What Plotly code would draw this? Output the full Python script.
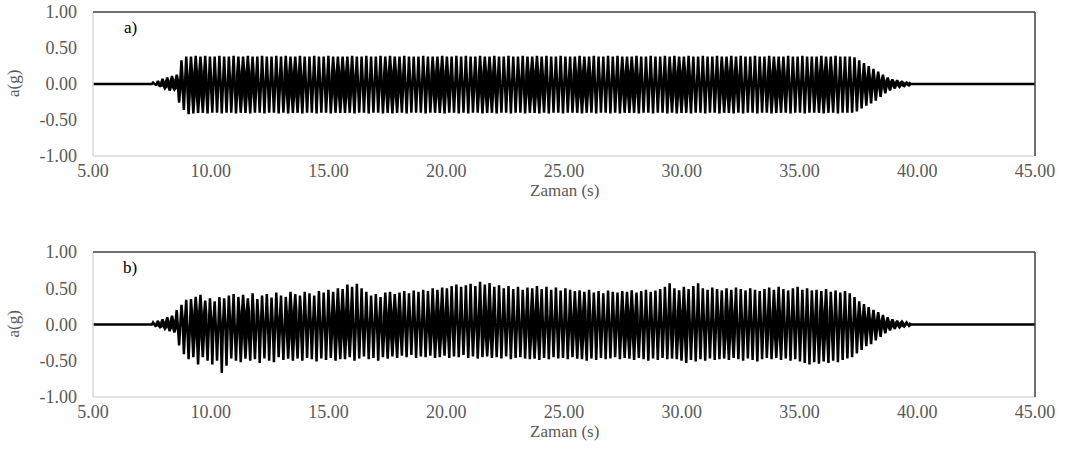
import numpy as np
import plotly.graph_objects as go

# ---------------- data ----------------
X_RANGE = [5, 45]
X_TICKS = [5, 10, 15, 20, 25, 30, 35, 40, 45]
Y_TICKS = [-1.0, -0.5, 0.0, 0.5, 1.0]
X_TITLE = "Zaman (s)"
Y_TITLE = "a(g)"
PANEL_LABELS = ["a)", "b)"]

# start / end of the motion (s)
A_START, A_END = 7.55, 39.75
B_START, B_END = 7.55, 39.75

# panel a: positive peak of each cycle (g)
A_POS = [
    0.02, 0.04, 0.07, 0.09, 0.11, 0.13, 0.33, 0.38, 0.38, 0.39,
    0.38, 0.39, 0.38, 0.38, 0.39, 0.38, 0.38, 0.39, 0.38, 0.38,
    0.39, 0.38, 0.38, 0.39, 0.38, 0.38, 0.39, 0.38, 0.39, 0.38,
    0.38, 0.39, 0.38, 0.38, 0.39, 0.38, 0.38, 0.39, 0.38, 0.38,
    0.38, 0.38, 0.39, 0.38, 0.38, 0.39, 0.38, 0.38, 0.39, 0.38,
    0.39, 0.38, 0.38, 0.39, 0.38, 0.38, 0.38, 0.39, 0.38, 0.38,
    0.38, 0.39, 0.38, 0.38, 0.39, 0.38, 0.39, 0.38, 0.38, 0.39,
    0.38, 0.38, 0.39, 0.38, 0.38, 0.39, 0.38, 0.38, 0.39, 0.38,
    0.38, 0.39, 0.38, 0.39, 0.38, 0.38, 0.39, 0.38, 0.38, 0.38,
    0.39, 0.38, 0.38, 0.39, 0.38, 0.38, 0.39, 0.38, 0.39, 0.38,
    0.38, 0.38, 0.39, 0.38, 0.38, 0.39, 0.38, 0.38, 0.39, 0.38,
    0.39, 0.38, 0.38, 0.39, 0.38, 0.38, 0.39, 0.38, 0.38, 0.39,
    0.38, 0.38, 0.39, 0.38, 0.39, 0.38, 0.38, 0.39, 0.38, 0.38,
    0.39, 0.38, 0.38, 0.38, 0.39, 0.38, 0.38, 0.39, 0.38, 0.38,
    0.38, 0.39, 0.38, 0.38, 0.39, 0.38, 0.38, 0.38, 0.37, 0.33,
    0.29, 0.25, 0.21, 0.17, 0.13, 0.09, 0.06, 0.05, 0.03, 0.02,
]
# panel a: negative trough of each cycle (g)
A_NEG = [
    -0.01, -0.03, -0.06, -0.09, -0.08, -0.26, -0.36, -0.42, -0.41, -0.40,
    -0.40, -0.41, -0.40, -0.40, -0.41, -0.40, -0.40, -0.41, -0.40, -0.40,
    -0.41, -0.40, -0.40, -0.41, -0.40, -0.40, -0.41, -0.40, -0.41, -0.40,
    -0.40, -0.41, -0.40, -0.40, -0.41, -0.40, -0.40, -0.41, -0.40, -0.40,
    -0.40, -0.40, -0.41, -0.40, -0.40, -0.41, -0.40, -0.40, -0.41, -0.40,
    -0.41, -0.40, -0.40, -0.41, -0.40, -0.40, -0.40, -0.41, -0.40, -0.40,
    -0.40, -0.41, -0.40, -0.40, -0.41, -0.40, -0.41, -0.40, -0.40, -0.41,
    -0.40, -0.40, -0.41, -0.40, -0.40, -0.41, -0.40, -0.40, -0.41, -0.40,
    -0.40, -0.41, -0.40, -0.41, -0.40, -0.40, -0.41, -0.40, -0.40, -0.40,
    -0.41, -0.40, -0.40, -0.41, -0.40, -0.40, -0.41, -0.40, -0.41, -0.40,
    -0.40, -0.40, -0.41, -0.40, -0.40, -0.41, -0.40, -0.40, -0.41, -0.40,
    -0.41, -0.40, -0.40, -0.41, -0.40, -0.40, -0.41, -0.40, -0.40, -0.41,
    -0.40, -0.40, -0.41, -0.40, -0.41, -0.40, -0.40, -0.41, -0.40, -0.40,
    -0.41, -0.40, -0.40, -0.40, -0.41, -0.40, -0.40, -0.41, -0.40, -0.40,
    -0.40, -0.41, -0.40, -0.40, -0.41, -0.40, -0.40, -0.40, -0.38, -0.34,
    -0.30, -0.27, -0.23, -0.18, -0.13, -0.09, -0.06, -0.04, -0.03, -0.02,
]
# panel a: half-width of the dense dark band around zero, per cycle (g)
A_BAND = [
    0.01, 0.02, 0.03, 0.04, 0.05, 0.06, 0.08, 0.10, 0.14, 0.17,
    0.17, 0.13, 0.09, 0.06, 0.04, 0.04, 0.06, 0.09, 0.14, 0.17,
    0.17, 0.13, 0.09, 0.06, 0.04, 0.04, 0.06, 0.09, 0.14, 0.17,
    0.17, 0.13, 0.09, 0.06, 0.04, 0.04, 0.06, 0.09, 0.14, 0.17,
    0.17, 0.17, 0.13, 0.09, 0.06, 0.04, 0.04, 0.06, 0.09, 0.14,
    0.17, 0.17, 0.13, 0.09, 0.06, 0.04, 0.04, 0.06, 0.09, 0.14,
    0.17, 0.17, 0.13, 0.09, 0.06, 0.04, 0.04, 0.06, 0.09, 0.14,
    0.17, 0.17, 0.13, 0.09, 0.06, 0.04, 0.04, 0.06, 0.09, 0.14,
    0.17, 0.17, 0.13, 0.09, 0.06, 0.04, 0.04, 0.06, 0.09, 0.14,
    0.17, 0.17, 0.13, 0.09, 0.06, 0.04, 0.04, 0.06, 0.09, 0.14,
    0.17, 0.17, 0.13, 0.09, 0.06, 0.04, 0.04, 0.06, 0.09, 0.14,
    0.14, 0.17, 0.17, 0.13, 0.09, 0.06, 0.04, 0.04, 0.06, 0.09,
    0.14, 0.17, 0.17, 0.13, 0.09, 0.06, 0.04, 0.04, 0.06, 0.09,
    0.14, 0.17, 0.17, 0.13, 0.09, 0.06, 0.04, 0.04, 0.06, 0.09,
    0.14, 0.17, 0.17, 0.13, 0.09, 0.06, 0.04, 0.04, 0.06, 0.09,
    0.10, 0.08, 0.07, 0.06, 0.05, 0.04, 0.03, 0.02, 0.02, 0.01,
]

# panel b: positive peak of each cycle (g)
B_POS = [
    0.03, 0.05, 0.07, 0.10, 0.12, 0.20, 0.27, 0.34, 0.35, 0.38,
    0.41, 0.33, 0.36, 0.32, 0.38, 0.36, 0.40, 0.42, 0.38, 0.41,
    0.36, 0.43, 0.35, 0.40, 0.42, 0.37, 0.44, 0.40, 0.38, 0.45,
    0.42, 0.40, 0.45, 0.43, 0.40, 0.46, 0.44, 0.48, 0.45, 0.50,
    0.49, 0.55, 0.52, 0.56, 0.50, 0.45, 0.40, 0.42, 0.38, 0.44,
    0.45, 0.42, 0.44, 0.46, 0.43, 0.47, 0.45, 0.48, 0.46, 0.50,
    0.48, 0.51, 0.50, 0.53, 0.55, 0.52, 0.54, 0.56, 0.53, 0.59,
    0.55, 0.57, 0.52, 0.54, 0.50, 0.53, 0.49, 0.52, 0.48, 0.51,
    0.50, 0.53, 0.49, 0.52, 0.48, 0.51, 0.47, 0.50, 0.48, 0.46,
    0.47, 0.45, 0.48, 0.44, 0.46, 0.43, 0.47, 0.45, 0.44, 0.46,
    0.45, 0.47, 0.44, 0.46, 0.48, 0.45, 0.47, 0.49, 0.52, 0.57,
    0.50, 0.47, 0.52, 0.49, 0.53, 0.57, 0.50, 0.48, 0.51, 0.49,
    0.47, 0.50, 0.48, 0.51, 0.49, 0.47, 0.50, 0.48, 0.46, 0.49,
    0.51, 0.48, 0.52, 0.49, 0.47, 0.50, 0.52, 0.48, 0.50, 0.47,
    0.48, 0.46, 0.49, 0.45, 0.47, 0.44, 0.46, 0.43, 0.38, 0.32,
    0.28, 0.24, 0.20, 0.17, 0.13, 0.10, 0.07, 0.05, 0.04, 0.03,
]
# panel b: negative trough of each cycle (g)
B_NEG = [
    -0.02, -0.04, -0.06, -0.09, -0.11, -0.29, -0.41, -0.48, -0.45, -0.55,
    -0.45, -0.50, -0.55, -0.50, -0.67, -0.57, -0.47, -0.50, -0.52, -0.47,
    -0.50, -0.48, -0.53, -0.47, -0.50, -0.52, -0.45, -0.49, -0.47, -0.50,
    -0.47, -0.50, -0.46, -0.48, -0.51, -0.47, -0.49, -0.46, -0.50, -0.48,
    -0.48, -0.45, -0.50, -0.47, -0.44, -0.48, -0.46, -0.50, -0.45, -0.47,
    -0.44, -0.46, -0.43, -0.45, -0.42, -0.46, -0.44, -0.45, -0.43, -0.46,
    -0.45, -0.43, -0.46, -0.44, -0.45, -0.42, -0.46, -0.44, -0.47, -0.45,
    -0.44, -0.46, -0.45, -0.47, -0.44, -0.48, -0.46, -0.45, -0.47, -0.48,
    -0.47, -0.49, -0.46, -0.48, -0.45, -0.47, -0.46, -0.48, -0.45, -0.47,
    -0.48, -0.50, -0.47, -0.49, -0.46, -0.48, -0.47, -0.45, -0.48, -0.46,
    -0.47, -0.49, -0.46, -0.48, -0.50, -0.47, -0.49, -0.46, -0.48, -0.47,
    -0.48, -0.50, -0.53, -0.49, -0.51, -0.48, -0.50, -0.47, -0.49, -0.48,
    -0.47, -0.49, -0.46, -0.48, -0.50, -0.47, -0.49, -0.51, -0.48, -0.46,
    -0.48, -0.46, -0.49, -0.47, -0.50, -0.48, -0.51, -0.53, -0.55, -0.52,
    -0.54, -0.51, -0.53, -0.50, -0.52, -0.49, -0.47, -0.45, -0.40, -0.35,
    -0.30, -0.27, -0.22, -0.17, -0.12, -0.08, -0.06, -0.04, -0.03, -0.02,
]
# panel b: half-width of the dense dark band around zero, per cycle (g)
B_BAND = [
    0.01, 0.02, 0.03, 0.04, 0.05, 0.06, 0.08, 0.10, 0.14, 0.18,
    0.18, 0.14, 0.10, 0.07, 0.05, 0.05, 0.07, 0.10, 0.14, 0.18,
    0.18, 0.14, 0.10, 0.07, 0.05, 0.05, 0.07, 0.10, 0.14, 0.18,
    0.18, 0.14, 0.10, 0.07, 0.05, 0.05, 0.07, 0.10, 0.14, 0.18,
    0.18, 0.18, 0.14, 0.10, 0.07, 0.05, 0.05, 0.07, 0.10, 0.14,
    0.18, 0.18, 0.14, 0.10, 0.07, 0.05, 0.05, 0.07, 0.10, 0.14,
    0.18, 0.18, 0.14, 0.10, 0.07, 0.05, 0.05, 0.07, 0.10, 0.14,
    0.18, 0.18, 0.14, 0.10, 0.07, 0.05, 0.05, 0.07, 0.10, 0.14,
    0.18, 0.18, 0.14, 0.10, 0.07, 0.05, 0.05, 0.07, 0.10, 0.14,
    0.18, 0.18, 0.14, 0.10, 0.07, 0.05, 0.05, 0.07, 0.10, 0.14,
    0.18, 0.18, 0.14, 0.10, 0.07, 0.05, 0.05, 0.07, 0.10, 0.14,
    0.14, 0.18, 0.18, 0.14, 0.10, 0.07, 0.05, 0.05, 0.07, 0.10,
    0.14, 0.18, 0.18, 0.14, 0.10, 0.07, 0.05, 0.05, 0.07, 0.10,
    0.14, 0.18, 0.18, 0.14, 0.10, 0.07, 0.05, 0.05, 0.07, 0.10,
    0.14, 0.18, 0.18, 0.14, 0.10, 0.07, 0.05, 0.05, 0.07, 0.10,
    0.10, 0.08, 0.07, 0.06, 0.05, 0.04, 0.03, 0.02, 0.02, 0.01,
]


# ---------------- build the record polyline from the cycle data ----------------
def record(start, end, pos, neg, band):
    n = len(pos)
    period = (end - start) / n
    q = period / 4.0
    e = period * 0.02
    xs, ys = [X_RANGE[0], start - q], [0.0, 0.0]
    for k in range(n):
        t = start + k * period
        p, m = pos[k], neg[k]
        b = min(band[k], 0.75 * p, 0.75 * abs(m))
        nb = band[k + 1] if k + 1 < n else band[k]
        nxt = pos[k + 1] if k + 1 < n else 0.0
        b2 = min(nb, 0.75 * abs(m), 0.75 * max(nxt, 0.01))
        xs += [t, t + q - e, t + q + e, t + 2 * q, t + 3 * q - e, t + 3 * q + e]
        ys += [p, b, -b, m, -b2, b2]
    xs += [end, X_RANGE[1]]
    ys += [0.0, 0.0]
    return xs, ys


W, H = 1065, 465
PLOT_L, PLOT_R = 93, 1035
PANELS = [(12, 156), (252, 397)]

fig = go.Figure()
data = [(A_START, A_END, A_POS, A_NEG, A_BAND), (B_START, B_END, B_POS, B_NEG, B_BAND)]

font_family = "Liberation Serif, Times New Roman, serif"
gray_txt = "#595959"

for i, (d, (top, bot)) in enumerate(zip(data, PANELS)):
    xs, ys = record(*d)
    xa = "x" if i == 0 else "x2"
    ya = "y" if i == 0 else "y2"
    fig.add_trace(go.Scatter(x=xs, y=ys, mode="lines",
                             line=dict(color="#000000", width=2.5),
                             xaxis=xa, yaxis=ya, hoverinfo="skip", showlegend=False))
    dom_x = [PLOT_L / W, PLOT_R / W]
    dom_y = [1 - bot / H, 1 - top / H]
    ax_x = dict(domain=dom_x, range=X_RANGE, tickvals=X_TICKS,
                ticktext=[f"{v:.2f}" for v in X_TICKS],
                showgrid=False, zeroline=False, showline=False, ticks="",
                tickfont=dict(family=font_family, size=18, color=gray_txt),
                anchor=ya, ticklabelstandoff=2, automargin=False)
    ax_y = dict(domain=dom_y, range=[-1, 1], tickvals=Y_TICKS,
                ticktext=[f"{v:.2f}" for v in Y_TICKS],
                showgrid=False, zeroline=False, showline=False, ticks="",
                tickfont=dict(family=font_family, size=18, color=gray_txt),
                anchor=xa, ticklabelstandoff=15, automargin=False)
    fig.update_layout(**{("xaxis" if i == 0 else "xaxis2"): ax_x,
                         ("yaxis" if i == 0 else "yaxis2"): ax_y})
    xd = f"{xa} domain"
    yd = f"{ya} domain"
    light = "#d9d9d9"
    dark = "#404040"
    fig.add_shape(type="line", xref=xd, yref=yd, x0=0, x1=0, y0=0, y1=1,
                  line=dict(color=light, width=1.5))
    fig.add_shape(type="line", xref=xd, yref=yd, x0=0, x1=1, y0=0, y1=0,
                  line=dict(color=light, width=1.5))
    fig.add_shape(type="line", xref=xd, yref=yd, x0=0, x1=1, y0=1, y1=1,
                  line=dict(color=dark, width=1.5))
    fig.add_shape(type="line", xref=xd, yref=yd, x0=1, x1=1, y0=0, y1=1,
                  line=dict(color=dark, width=1.5))
    # panel label
    fig.add_annotation(text=PANEL_LABELS[i], xref="paper", yref="paper",
                       x=130 / W, y=1 - (top + 15) / H, showarrow=False,
                       xanchor="center", yanchor="middle",
                       font=dict(family=font_family, size=17, color="#000000"))
    # axis titles
    fig.add_annotation(text=X_TITLE, xref="paper", yref="paper",
                       x=(PLOT_L + PLOT_R) / 2 / W, y=1 - (bot + 34) / H,
                       showarrow=False, xanchor="center", yanchor="middle",
                       font=dict(family=font_family, size=17, color=gray_txt))
    fig.add_annotation(text=Y_TITLE, xref="paper", yref="paper",
                       x=13 / W, y=1 - ((top + bot) / 2) / H, textangle=-90,
                       showarrow=False, xanchor="center", yanchor="middle",
                       font=dict(family=font_family, size=17, color=gray_txt))

fig.update_layout(width=W, height=H, margin=dict(l=0, r=0, t=0, b=0),
                  paper_bgcolor="white", plot_bgcolor="white")
fig.write_html("out.html")
